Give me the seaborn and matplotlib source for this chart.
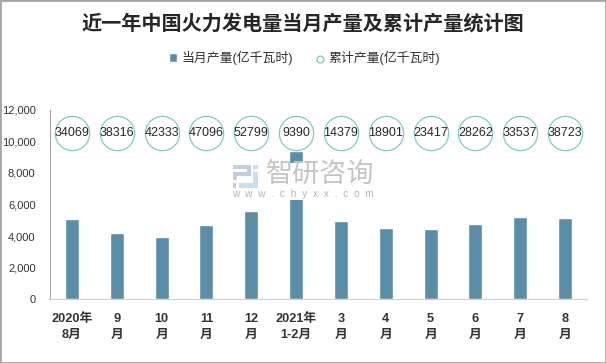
# 近一年中国火力发电量当月产量及累计产量统计图
import pandas as pd
import matplotlib
matplotlib.use('Agg')
import matplotlib.pyplot as plt
from matplotlib.patches import Rectangle
import seaborn as sns

# Datos.
meses = ['2020年\n8月', '9\n月', '10\n月', '11\n月', '12\n月', '2021年\n1-2月',
         '3\n月', '4\n月', '5\n月', '6\n月', '7\n月', '8\n月']
mensual = [5080, 4190, 3940, 4700, 5590, 9390, 4960, 4500, 4440, 4780, 5220, 5130]
acumulado = [34069, 38316, 42333, 47096, 52799, 9390, 14379, 18901, 23417, 28262, 33537, 38723]
y_ticks = [0, 2000, 4000, 6000, 8000, 10000, 12000]

nombre_mes = '当月产量(亿千瓦时)'
nombre_acum = '累计产量(亿千瓦时)'

# Altura fija de los círculos.
altura = 10520

sns.set_style('white')
plt.rcParams['font.family'] = ['Liberation Sans', 'Noto Sans CJK SC']

df = pd.DataFrame({'mes': meses, 'mensual': mensual, 'acum': acumulado, 'altura': altura})

fig = plt.figure(figsize=(6.06, 3.63), dpi=100)
ax = fig.add_axes([49.5/606, 63.7/363, 538/606, 189.5/363])

sns.barplot(data=df, x='mes', y='mensual', color='#5b8ea6', saturation=1, width=0.31,
            label=nombre_mes, ax=ax, zorder=2)
sns.scatterplot(data=df, x='mes', y='altura', s=610, facecolor='white', edgecolor='#7fcac6',
                linewidth=0.9, label=nombre_acum, ax=ax, zorder=3)

for i, v in enumerate(acumulado):
    ax.text(i, altura, str(v), ha='center', va='center', fontsize=9, color='#262626', zorder=4)

# Ejes.
ax.set_xlim(-0.5, 11.5)
ax.set_ylim(0, 12000)
ax.set_xlabel('')
ax.set_ylabel('')
ax.set_yticks(y_ticks)
ax.set_yticklabels([f'{v:,}' for v in y_ticks], fontsize=8, color='#333333')
ax.tick_params(axis='y', length=0, pad=10)
ax.tick_params(axis='x', which='major', length=0, pad=10)
ax.set_xticks(range(12))
ax.set_xticklabels(meses, fontsize=9.2, fontweight='bold', color='#333333', linespacing=1.42)
ax.set_xticks([i - 0.5 for i in range(13)], minor=True)
ax.tick_params(axis='x', which='minor', length=4, width=1, color='#d0d0d0')
for lado in ['top', 'right']:
    ax.spines[lado].set_visible(False)
ax.spines['left'].set_color('#a6a6a6')
ax.spines['bottom'].set_color('#d0d0d0')
ax.patch.set_alpha(0)

# Título y leyenda.
fig.text(303/606, 1 - 24/363, '近一年中国火力发电量当月产量及累计产量统计图', ha='center', va='center',
         fontsize=14.5, fontweight='bold', color='#262626')
handles, labels = ax.get_legend_handles_labels()
orden = [labels.index(nombre_mes), labels.index(nombre_acum)]
ax.legend([handles[i] for i in orden], [labels[i] for i in orden],
          loc='center', bbox_to_anchor=(304.5/606, 1 - 58/363), bbox_transform=fig.transFigure,
          ncol=2, frameon=False, fontsize=9.3, handlelength=0.6, handleheight=0.6,
          handletextpad=0.35, columnspacing=1.75, markerscale=0.2, labelcolor='#333333')

# Marca de agua.
fig.add_artist(Rectangle((232/606, 1 - 200/363), 145/606, 37/363, transform=fig.transFigure,
                         facecolor='white', edgecolor='none', zorder=5))
for (x, y, w, h, c) in [(233, 165, 18, 4, '#c5cde2'), (247, 165, 4, 11, '#c5cde2'),
                        (233, 172, 18, 4, '#c5cde2'), (233, 172, 4, 8, '#c5cde2'),
                        (253, 165, 5, 4, '#c9dff0'), (253, 172, 5, 16, '#c9dff0'),
                        (239, 183, 19, 5, '#c9dff0'), (233, 183, 3, 5, '#c5cde2')]:
    fig.add_artist(Rectangle((x/606, 1 - (y + h)/363), w/606, h/363, transform=fig.transFigure,
                             facecolor=c, edgecolor='none', zorder=6))
fig.text(320/606, 1 - 175/363, '智研咨询', ha='center', va='center', fontsize=19.5, color='#c4c4c4', zorder=6)
fig.text(303/606, 1 - 194/363, 'w  w  w  .  c  h  y  x  x  .  c  o  m', ha='center', va='center',
         fontsize=7.3, color='#b4b4b4', zorder=6)

# Marco exterior.
fig.add_artist(Rectangle((0, 0), 1, 1, transform=fig.transFigure, facecolor='none',
                         edgecolor='#a6a6a6', linewidth=2, zorder=7))

fig.savefig('out.png', dpi=100)
